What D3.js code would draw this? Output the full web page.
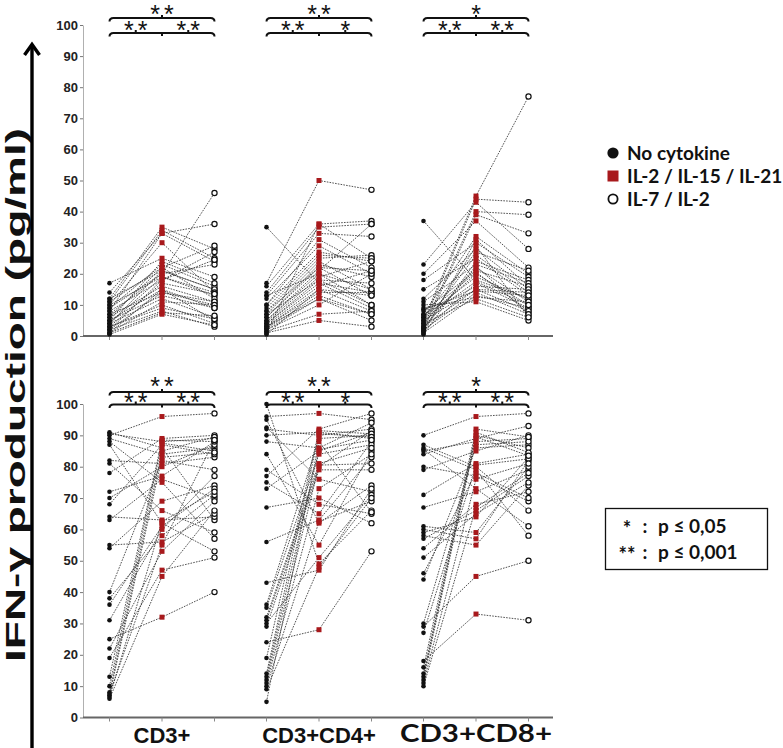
<!DOCTYPE html>
<html><head><meta charset="utf-8">
<script src="https://cdn.jsdelivr.net/npm/d3@7"></script>
<style>body{margin:0;background:#fff} svg{display:block}</style>
</head><body>
<svg id="chart" width="783" height="748"></svg>
<script>
// ---------- data ----------
const categories = ["CD3+", "CD3+CD4+", "CD3+CD8+"];
const conditions = ["No cytokine", "IL-2 / IL-15 / IL-21", "IL-7 / IL-2"];
const yTicks = [0, 10, 20, 30, 40, 50, 60, 70, 80, 90, 100];
const yTickLabels = ["0", "10", "20", "30", "40", "50", "60", "70", "80", "90", "100"];
// significance: [outer (col1 vs col3), inner left (col1 vs col2), inner right (col2 vs col3)]
const sigTop = [["**", "**", "**"], ["**", "**", "*"], ["*", "**", "**"]];
const sigBottom = [["**", "**", "**"], ["**", "**", "*"], ["*", "**", "**"]];
const sigLegend = [["*", "p \u2264 0,05"], ["**", "p \u2264 0,001"]];
const yTitle = "IFN-\u03b3 production (pg/ml)";

// top panel, values per subject (pg/ml)
const topCD3_none = [17,14,12,12,11,11,10,10,9,9,8,8,7,7,6,6,5,5,5,4,4,4,3,3,3,2,2,2,1,1,1,0.5];
const topCD3_il21 = [25,33,35,21,34,22,19,30,20,23,18,33,14,20,16,22,13,24,15,21,12,19,10,17,9,18,14,8,11,7.5,15,7];
const topCD3_il7  = [19,24,28,15,25,29,13,14,46,16,27,36,10,23,11,12,9,17,5,15,6,14,4,13.5,5.5,24.5,11,3,10,6.5,9,3.5];

const topCD4_none = [35,17,16,14,13,12,10,9,8,7,6,6,5,5,4.5,4,4,3.5,3,3,2.5,2,2,1.5,1,1,0.5,7,8,10,3,13];
const topCD4_il21 = [17,50,36,35,33,29,31,26,25,24,23,22,21,20,19,18,17,16,15,14,13,12,10,7,5,36,15,18,22,27,12,20];
const topCD4_il7  = [14,47,37,36,32,20,22,25,26,15,19,13,36,10,24,17,9,21,8,14,7,5,20,8,3,25,13,10,21,24,7,15];

const topCD8_none = [37,5,4,23,3,2,20,7,1,18,12,6,3.5,15,0.5,11,2.5,8,4.5,6,1.5,7,5,3,2,1,4,10,9,8.5,5.5,6.5,2.8,1.8];
const topCD8_il21 = [18,45,44,43,40,39,37,32,31,30,28,27,26,25,24,23,22,21,20,19,17,16,15,15,14,13,12,11,12.5,14.5,17.5,20.5,22.5,29];
const topCD8_il7  = [12,77,43,28,39,33,22,20,16,19,15,21,14,13,18,17,11,16,10,12,9,15,8,14,7,9,6,5,11,13,10,8,7,6];

// bottom panel
const botCD3_none = [91,90.5,90,89,88,87,82,81,78,72,70,68,64,63,55,54,40,38,36,31,25,22,19,13,10,8,7,6.5,6,7.5];
const botCD3_il21 = [86,88,96,84,75,62,81,66,89,77,80,87,63,76,56,69,82,58,61,60,32,53,47,88.5,87.5,85,83,62.5,45,55];
const botCD3_il7  = [63,89,97,86,57,53,83,59,90,88,87,84,64,70,65,74,79,71,73,77,40,69,51,88,85,89.5,84.5,72,66,88.5];

const botCD4_none = [100,96,95,92,92.5,90,88,84,79,77,75,73,67,56,43,36,35,32,31,30,29,24,19,14,13,12,11,10,9,5];
const botCD4_il21 = [49,97,62,90,76,91,86,55,68,92,65,85,70,63,47,89,84,81,80,51,79,28,91.5,90.5,85.5,80.5,73,62.5,48,88];
const botCD4_il7  = [66,95,74,92,72,89,94,85,65,97,88,91,62,83,73,90,87,86,91.5,71,79,53,90.5,89.5,88.5,81,84,69,70,65.5];

const botCD8_none = [90,87,86,85.5,85,84,80,79,71,67,61,60,59,58,57,54,51,46,44,30,29,27,18,16,14,13,12,11,10];
const botCD8_il21 = [96,80,79,73,88,89,77,85,81,72,59,57,64,55,66,68,65,78,86,87,45,80.5,33,92,90,91,89.5,76,67];
const botCD8_il7  = [97,66,58,61,89,93,69,90,84,79,80,82,83,74,77,72,75,70,87,88,50,82.5,31,89.5,86,84.5,83.5,81,78];

// ---------- drawing ----------
const svg = d3.select("#chart");
svg.append("rect").attr("width", 783).attr("height", 748).attr("fill", "#fff");

const xGroup = d3.scalePoint().domain(categories).range([162, 476]);
const xCond = d3.scalePoint().domain(conditions).range([-52.5, 52.5]);
const X = (g, c) => xGroup(g) + xCond(c);
const yTop = d3.scaleLinear().domain([0, 100]).range([336, 25]);
const yBot = d3.scaleLinear().domain([0, 100]).range([717.5, 404]);

const panels = [
  { y: yTop, sig: sigTop, outerY: 18, innerY: 33, outerStarY: 8.5, innerStarY: 25,
    sets: [[topCD3_none, topCD3_il21, topCD3_il7], [topCD4_none, topCD4_il21, topCD4_il7], [topCD8_none, topCD8_il21, topCD8_il7]] },
  { y: yBot, sig: sigBottom, outerY: 392, innerY: 404.5, outerStarY: 380.5, innerStarY: 396.5,
    sets: [[botCD3_none, botCD3_il21, botCD3_il7], [botCD4_none, botCD4_il21, botCD4_il7], [botCD8_none, botCD8_il21, botCD8_il7]] }
];

const RED = "#a8191c";
const axisX0 = 83, axisX1 = 553;

function stars(g, txt, cx, cy) {
  const fs = 25;
  g.append("text").attr("x", cx + 2).attr("y", cy + fs * 0.57)
    .attr("text-anchor", "middle").attr("font-family", "Liberation Sans, Arial, sans-serif")
    .attr("font-size", fs).attr("letter-spacing", 4).attr("fill", "#111").text(txt);
}

panels.forEach(p => {
  const g = svg.append("g");
  const y = p.y;
  // y axis
  const ax = g.append("g").attr("transform", `translate(${axisX0},0)`)
    .call(d3.axisLeft(y).tickValues(yTicks).tickFormat((d, i) => yTickLabels[i]).tickSize(3).tickSizeOuter(0).tickPadding(2));
  ax.select(".domain").attr("stroke", "#b0b0b0").attr("stroke-width", 1);
  ax.selectAll(".tick line").attr("stroke", "#777");
  ax.selectAll(".tick text").attr("font-family", "Liberation Sans, Arial, sans-serif")
    .attr("font-weight", "bold").attr("font-size", 13).attr("fill", "#222");
  // x axis line
  g.append("line").attr("x1", axisX0).attr("x2", axisX1).attr("y1", y(0)).attr("y2", y(0))
    .attr("stroke", "#666").attr("stroke-width", 1.8);
  categories.forEach(cat => conditions.forEach(c => {
    g.append("line").attr("x1", X(cat, c)).attr("x2", X(cat, c)).attr("y1", y(0)).attr("y2", y(0) + 4)
      .attr("stroke", "#888").attr("stroke-width", 1);
  }));

  const line = d3.line();
  categories.forEach((cat, gi) => {
    const [a, b, c] = p.sets[gi];
    const gg = g.append("g");
    // connecting dotted lines
    a.forEach((v, i) => {
      gg.append("path")
        .attr("d", line([[X(cat, conditions[0]), y(a[i])], [X(cat, conditions[1]), y(b[i])], [X(cat, conditions[2]), y(c[i])]]))
        .attr("fill", "none").attr("stroke", "#333").attr("stroke-width", 0.85)
        .attr("stroke-dasharray", "1.6,1.2");
    });
    // points
    gg.selectAll(null).data(a).join("circle")
      .attr("cx", X(cat, conditions[0])).attr("cy", d => y(d)).attr("r", 2.3).attr("fill", "#111");
    gg.selectAll(null).data(b).join("rect")
      .attr("x", X(cat, conditions[1]) - 2.5).attr("y", d => y(d) - 2.5)
      .attr("width", 5).attr("height", 5).attr("fill", RED);
    gg.selectAll(null).data(c).join("circle")
      .attr("cx", X(cat, conditions[2])).attr("cy", d => y(d)).attr("r", 2.6)
      .attr("fill", "#fff").attr("stroke", "#111").attr("stroke-width", 1.2);

    // significance brackets
    const x1 = X(cat, conditions[0]), x2 = X(cat, conditions[2]), xm = X(cat, conditions[1]);
    const br = (yy) => `M${x1},${yy + 3.5}Q${x1},${yy} ${x1 + 4},${yy}H${x2 - 4}Q${x2},${yy} ${x2},${yy + 3.5}`;
    const bg = g.append("g").attr("fill", "none").attr("stroke", "#111").attr("stroke-width", 2);
    bg.append("path").attr("d", br(p.outerY) + `M${xm},${p.outerY}V${p.outerY - 3}`);
    const ql = (x1 + xm) / 2, qr = (xm + x2) / 2;
    bg.append("path").attr("d", br(p.innerY) + `M${xm},${p.innerY}V${p.innerY + 3}M${ql},${p.innerY}V${p.innerY - 3}M${qr},${p.innerY}V${p.innerY - 3}`);
    stars(g, p.sig[gi][0], xm, p.outerStarY);
    stars(g, p.sig[gi][1], ql, p.innerStarY);
    stars(g, p.sig[gi][2], qr, p.innerStarY);
  });
});

// category labels
categories.forEach((cat, i) => {
  const t = svg.append("text").attr("x", xGroup(cat)).attr("text-anchor", "middle")
    .attr("fill", "#111").text(cat);
  if (i < 2) {
    t.attr("y", 743).attr("font-family", "Liberation Sans, Arial, sans-serif").attr("font-weight", "bold").attr("font-size", 22);
  } else {
    t.attr("y", 742).attr("font-family", "Lato, sans-serif").attr("font-weight", "bold").attr("font-size", 25)
      .attr("textLength", 152).attr("lengthAdjust", "spacingAndGlyphs");
  }
});

// y title and arrow
svg.append("text").attr("transform", "translate(25,395) rotate(-90)")
  .attr("text-anchor", "middle").attr("font-family", "Liberation Sans, Arial, sans-serif")
  .attr("font-weight", "bold").attr("font-size", 27)
  .attr("textLength", 534).attr("lengthAdjust", "spacingAndGlyphs").attr("fill", "#111").text(yTitle);
svg.append("line").attr("x1", 32).attr("x2", 32).attr("y1", 748).attr("y2", 46)
  .attr("stroke", "#000").attr("stroke-width", 3.4);
svg.append("path").attr("d", "M24.5,55L32,44.5L39.5,55").attr("fill", "none")
  .attr("stroke", "#000").attr("stroke-width", 3.4).attr("stroke-linejoin", "miter");

// legend
const legY = [153, 176, 199];
const lg = svg.append("g");
conditions.forEach((c, i) => {
  if (i === 0) lg.append("circle").attr("cx", 613).attr("cy", legY[i]).attr("r", 5.6).attr("fill", "#111");
  if (i === 1) lg.append("rect").attr("x", 607.5).attr("y", legY[i] - 5.5).attr("width", 11).attr("height", 11).attr("fill", RED);
  if (i === 2) lg.append("circle").attr("cx", 613).attr("cy", legY[i]).attr("r", 4.6).attr("fill", "#fff").attr("stroke", "#111").attr("stroke-width", 1.8);
  lg.append("text").attr("x", 627).attr("y", legY[i] + 6.5).attr("font-family", "Lato, sans-serif")
    .attr("font-weight", "bold").attr("font-size", 19).attr("fill", "#111").text(c);
});

// significance legend box
const sb = svg.append("g");
sb.append("rect").attr("x", 605.5).attr("y", 508.5).attr("width", 162).attr("height", 61)
  .attr("fill", "#fff").attr("stroke", "#111").attr("stroke-width", 1.3);
sigLegend.forEach((s, i) => {
  const yy = [533, 559][i];
  sb.append("text").attr("x", 627).attr("y", yy + 3).attr("text-anchor", "middle").attr("font-family", "Lato, sans-serif")
    .attr("font-weight", "bold").attr("font-size", 20).attr("fill", "#111").text(s[0]);
  sb.append("text").attr("x", 645).attr("y", yy).attr("text-anchor", "middle").attr("font-family", "Lato, sans-serif")
    .attr("font-weight", "bold").attr("font-size", 19).attr("fill", "#111").text(":");
  sb.append("text").attr("x", 658).attr("y", yy).attr("font-family", "Lato, sans-serif")
    .attr("font-weight", "bold").attr("font-size", 19).attr("fill", "#111").text(s[1]);
});
</script>
</body></html>
